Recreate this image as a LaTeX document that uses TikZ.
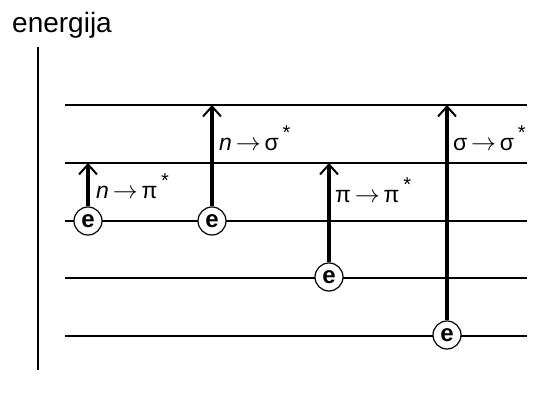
\documentclass[tikz,border=0pt]{standalone}
\usepackage{fontspec}
\setmainfont{Liberation Sans}
\usetikzlibrary{arrows.meta}
\tikzset{
  level/.style={line width=1.5pt},
  axisline/.style={line width=2pt},
  trans/.style={line width=3.2pt,-{Straight Barb[length=10pt,width=18pt,line width=2pt]}},
  elec/.style={circle,draw,line width=1.2pt,fill=white,minimum size=28pt,inner sep=0pt,font=\fontsize{24}{24}\selectfont\bfseries},
  lbl/.style={anchor=base west,inner sep=0pt,font=\fontsize{23}{23}\selectfont},
}
\newcommand{\arr}{\,{\fontsize{26}{26}\selectfont$\rightarrow$}\,}
\newcommand{\st}{\,\raisebox{11pt}{\fontsize{20}{20}\selectfont *}}
\begin{document}
\begin{tikzpicture}[x=1pt,y=-1pt]
\useasboundingbox (0,0) rectangle (550,396);
\node[anchor=base west,inner sep=0pt,font=\fontsize{28}{28}\selectfont] (title) at (12,33) {energija};
\coordinate (axtop) at (37.5,47);
\coordinate (axbot) at (37.5,370);
\draw[axisline] (axtop) -- (axbot);
\foreach \i/\y in {1/105,2/163,3/221,4/278,5/336}{
  \coordinate (L\i a) at (65,\y);
  \coordinate (L\i b) at (527,\y);
  \draw[level] (L\i a) -- (L\i b);
}
\node[elec] (e1) at (88,221) {e};
\node[elec] (e2) at (212,221) {e};
\node[elec] (e3) at (329,277) {e};
\node[elec] (e4) at (447,335) {e};
\coordinate (t1) at (88,163);
\coordinate (t2) at (212,105);
\coordinate (t3) at (329,163);
\coordinate (t4) at (447,105);
\draw[trans] (e1) -- (t1);
\draw[trans] (e2) -- (t2);
\draw[trans] (e3) -- (t3);
\draw[trans] (e4) -- (t4);
\node[lbl] (l1) at (96,199) {\textit{n}\arr π\st};
\node[lbl] (l2) at (219,151) {\textit{n}\arr σ\st};
\node[lbl] (l3) at (335,203) {π\arr π\st};
\node[lbl] (l4) at (453,151) {σ\arr σ\st};
\end{tikzpicture}
\end{document}
